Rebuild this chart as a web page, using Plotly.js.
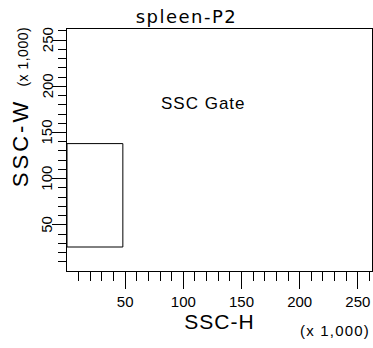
<!DOCTYPE html>
<html><head><meta charset="utf-8">
<script src="https://cdn.plot.ly/plotly-3.0.1.min.js"></script>
<style>html,body{margin:0;padding:0;background:#fff;}</style>
</head><body>
<div id="chart" style="width:373px;height:348px;"></div>
<script>
// ---- data ----
const chartTitle = 'spleen-P2';
const xAxisLabel = 'SSC-H';
const yAxisLabel = 'SSC-W';
const scaleLabel = '(x 1,000)';
const gateName = 'SSC Gate';
const gateX = [0, 48, 48, 0, 0];
const gateY = [26, 26, 138, 138, 26];
const gateLabelPos = [117, 181];
const axisMax = 262.144;
const majorTicks = [50, 100, 150, 200, 250];
const majorTickText = ['50', '100', '150', '200', '250'];
const minorTicks = [10, 20, 30, 40, 60, 70, 80, 90, 110, 120, 130, 140, 160, 170, 180, 190, 210, 220, 230, 240, 260];

const sans = 'Liberation Sans, Arial, sans-serif';
const wide = 'DejaVu Sans, Verdana, sans-serif';

const trace = {
  x: gateX, y: gateY, type: 'scatter', mode: 'lines',
  line: {color: '#000', width: 1}, hoverinfo: 'skip', showlegend: false,
  cliponaxis: false
};

function axis(len, minorLen) {
  return {
    range: [0, axisMax], showgrid: false, zeroline: false,
    showline: true, linecolor: '#000', linewidth: 1, mirror: true,
    ticks: 'outside', tickmode: 'array', tickvals: majorTicks, ticktext: majorTickText,
    ticklen: len, tickwidth: 1, tickcolor: '#000',
    tickfont: {family: sans, size: 15, color: '#000'},
    minor: {tickmode: 'array', tickvals: minorTicks, ticks: 'outside', ticklen: minorLen, tickwidth: 1, tickcolor: '#000', showgrid: false},
    fixedrange: true
  };
}

const xa = axis(17, 9);
xa.title = {text: '<span style="letter-spacing:1px">' + xAxisLabel + '</span>', font: {family: sans, size: 21, color: '#000'}, standoff: 0};
const ya = axis(14, 8);
ya.showticklabels = false;

// rotated y tick labels, placed through the y axis scale
const yTickLabels = majorTicks.map((v, i) => ({
  text: majorTickText[i], x: (47 - 67) / 305, xref: 'paper', y: v, yref: 'y',
  showarrow: false, xanchor: 'center', yanchor: 'middle', textangle: -90,
  font: {family: sans, size: 15, color: '#000'}
}));

const layout = {
  width: 373, height: 348,
  margin: {l: 67, r: 1, t: 29, b: 77, pad: 0},
  paper_bgcolor: '#fff', plot_bgcolor: '#fff',
  title: {text: '<span style="letter-spacing:1.5px">' + chartTitle + '</span>',
          font: {family: wide, size: 18, color: '#000'},
          x: 186.5 / 373, xref: 'container', xanchor: 'center',
          y: 1 - 17 / 348, yref: 'container', yanchor: 'middle'},
  xaxis: xa, yaxis: ya,
  showlegend: false, hovermode: false,
  annotations: [
    {text: '<span style="letter-spacing:1px">' + gateName + '</span>', x: gateLabelPos[0], y: gateLabelPos[1], xref: 'x', yref: 'y',
     showarrow: false, xanchor: 'center', yanchor: 'middle',
     font: {family: sans, size: 17, color: '#000'}},
    {text: '<span style="letter-spacing:1.2px">' + scaleLabel + '</span>', xref: 'paper', yref: 'paper', x: 1, y: (271.5 - 331.5) / 243,
     showarrow: false, xanchor: 'right', yanchor: 'middle',
     font: {family: sans, size: 15, color: '#000'}},
    {text: '<span style="letter-spacing:3px">' + yAxisLabel + '</span>  <span style="font-size:14px;letter-spacing:0.5px">' + scaleLabel + '</span>',
     xref: 'paper', yref: 'paper', x: (20.5 - 67) / 305, y: (271.5 - 107.5) / 243,
     showarrow: false, xanchor: 'center', yanchor: 'middle', textangle: -90,
     font: {family: sans, size: 22, color: '#000'}}
  ].concat(yTickLabels)
};

Plotly.newPlot('chart', [trace], layout, {staticPlot: true, displayModeBar: false});
</script>
</body></html>
